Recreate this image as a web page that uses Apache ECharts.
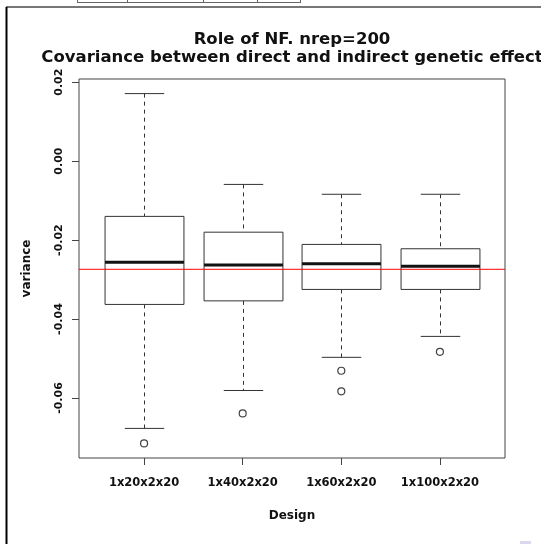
<!DOCTYPE html>
<html>
<head>
<meta charset="utf-8">
<script src="https://cdn.jsdelivr.net/npm/echarts@6/dist/echarts.min.js"></script>
<style>html,body{margin:0;padding:0;background:#fff;}#c{width:541px;height:544px;}</style>
</head>
<body>
<div id="c"></div>
<script>
const categories = ['1x20x2x20', '1x40x2x20', '1x60x2x20', '1x100x2x20'];
const positions = [1, 2, 3, 4];
const lowerWhisker = [-0.0677, -0.0581, -0.0497, -0.0444];
const q1 = [-0.0363, -0.0354, -0.0325, -0.0325];
const median = [-0.0256, -0.0263, -0.0260, -0.0266];
const q3 = [-0.0140, -0.0180, -0.0211, -0.0222];
const upperWhisker = [0.0171, -0.0059, -0.0084, -0.0084];
const outlierX = [1, 2, 3, 3, 4];
const outlierY = [-0.0715, -0.0639, -0.0531, -0.0583, -0.0483];
const refLine = -0.0274;
const yTicks = [0.02, 0, -0.02, -0.04, -0.06];
const xRange = [0.34, 4.66];
const yRange = [-0.0752, 0.0208];
const titleLines = ['Role of NF. nrep=200', 'Covariance between direct and indirect genetic effect'];

const boxData = positions.map((p, i) => [p, lowerWhisker[i], q1[i], median[i], q3[i], upperWhisker[i]]);
const outlierData = outlierX.map((x, i) => [x, outlierY[i]]);
const refData = xRange.map(x => [x, refLine]);

const FONT = '"DejaVu Sans", sans-serif';
const chart = echarts.init(document.getElementById('c'));

function renderBox(params, api) {
  const x = api.value(0);
  const lo = api.coord([x, api.value(1)]);
  const b1 = api.coord([x, api.value(2)]);
  const md = api.coord([x, api.value(3)]);
  const b3 = api.coord([x, api.value(4)]);
  const hi = api.coord([x, api.value(5)]);
  const bw = api.size([0.8, 0])[0];
  const sw = api.size([0.4, 0])[0];
  const cx = Math.round(lo[0]) + 0.5;
  const stroke = '#333';
  return {
    type: 'group',
    children: [
      { type: 'line', shape: { x1: cx, y1: hi[1], x2: cx, y2: b3[1] }, style: { stroke: stroke, lineWidth: 1, lineDash: [4, 4] } },
      { type: 'line', shape: { x1: cx, y1: b1[1], x2: cx, y2: lo[1] }, style: { stroke: stroke, lineWidth: 1, lineDash: [4, 4] } },
      { type: 'line', shape: { x1: cx - sw / 2, y1: hi[1], x2: cx + sw / 2, y2: hi[1] }, style: { stroke: stroke, lineWidth: 1 } },
      { type: 'line', shape: { x1: cx - sw / 2, y1: lo[1], x2: cx + sw / 2, y2: lo[1] }, style: { stroke: stroke, lineWidth: 1 } },
      { type: 'rect', shape: { x: cx - bw / 2, y: b3[1], width: bw, height: b1[1] - b3[1] }, style: { fill: '#fff', stroke: stroke, lineWidth: 1 } },
      { type: 'line', shape: { x1: cx - bw / 2, y1: md[1], x2: cx + bw / 2, y2: md[1] }, style: { stroke: '#111', lineWidth: 3 } }
    ]
  };
}

chart.setOption({
  animation: false,
  backgroundColor: '#fff',
  grid: { left: 79, top: 79, width: 426, height: 379, show: true, borderColor: '#444', borderWidth: 1, backgroundColor: 'transparent' },
  xAxis: {
    type: 'value', min: xRange[0], max: xRange[1],
    name: 'Design', nameLocation: 'middle', nameGap: 52,
    nameTextStyle: { fontFamily: FONT, fontWeight: 'bold', fontSize: 12, color: '#111' },
    axisLine: { show: false, onZero: false },
    splitLine: { show: false },
    axisTick: { show: true, customValues: positions, length: 7, lineStyle: { color: '#444' } },
    axisLabel: { customValues: positions, margin: 19, fontFamily: FONT, fontWeight: 'bold', fontSize: 11.5, color: '#111',
      formatter: v => categories[positions.indexOf(Math.round(v))] || '' }
  },
  yAxis: {
    type: 'value', min: yRange[0], max: yRange[1],
    name: 'variance', nameLocation: 'middle', nameGap: 46, nameRotate: 90,
    nameTextStyle: { fontFamily: FONT, fontWeight: 'bold', fontSize: 12, color: '#111' },
    axisLine: { show: false, onZero: false },
    splitLine: { show: false },
    axisTick: { show: true, customValues: yTicks, length: 7, lineStyle: { color: '#444' } },
    axisLabel: { customValues: yTicks, rotate: 90, margin: 14, fontFamily: FONT, fontWeight: 'bold', fontSize: 11, color: '#111',
      formatter: v => v.toFixed(2) }
  },
  graphic: [
    { type: 'line', shape: { x1: 6, y1: 7, x2: 541, y2: 7 }, style: { stroke: '#777', lineWidth: 2 } },
    { type: 'line', shape: { x1: 6.5, y1: 7, x2: 6.5, y2: 544 }, style: { stroke: '#000', lineWidth: 2 } },
    { type: 'line', shape: { x1: 77, y1: 2.5, x2: 301, y2: 2.5 }, style: { stroke: '#666', lineWidth: 1 } },
    { type: 'line', shape: { x1: 77.5, y1: 0, x2: 77.5, y2: 3 }, style: { stroke: '#666', lineWidth: 1 } },
    { type: 'line', shape: { x1: 127.5, y1: 0, x2: 127.5, y2: 3 }, style: { stroke: '#666', lineWidth: 1 } },
    { type: 'line', shape: { x1: 203.5, y1: 0, x2: 203.5, y2: 3 }, style: { stroke: '#666', lineWidth: 1 } },
    { type: 'line', shape: { x1: 257.5, y1: 0, x2: 257.5, y2: 3 }, style: { stroke: '#666', lineWidth: 1 } },
    { type: 'line', shape: { x1: 300.5, y1: 0, x2: 300.5, y2: 3 }, style: { stroke: '#666', lineWidth: 1 } },
    { type: 'rect', shape: { x: 520, y: 541, width: 11, height: 3 }, style: { fill: '#d8d8ee' } },
    { type: 'text', x: 292, y: 40, style: { text: titleLines[0], font: 'bold 16.5px ' + FONT, fill: '#111', textAlign: 'center', textVerticalAlign: 'middle' } },
    { type: 'text', x: 292, y: 58, style: { text: titleLines[1], font: 'bold 16.5px ' + FONT, fill: '#111', textAlign: 'center', textVerticalAlign: 'middle' } }
  ],
  series: [
    { type: 'custom', renderItem: renderBox, data: boxData, encode: { x: 0, y: [1, 2, 3, 4, 5] }, z: 2 },
    { type: 'scatter', data: outlierData, symbol: 'circle', symbolSize: 7,
      itemStyle: { color: '#fff', borderColor: '#111', borderWidth: 1.2 }, z: 3 },
    { type: 'line', data: refData, symbol: 'none', lineStyle: { color: '#ff0000', width: 1 }, z: 4, silent: true }
  ]
});
</script>
</body>
</html>
